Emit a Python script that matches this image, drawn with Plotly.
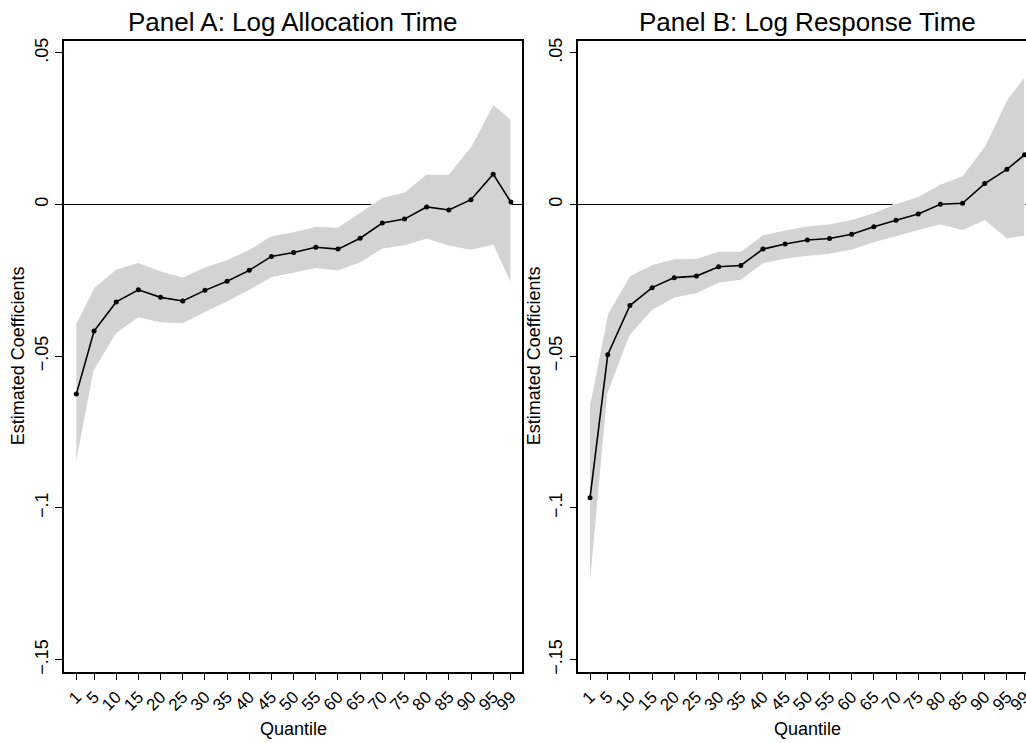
import plotly.graph_objects as go

# ---------------- data ----------------
quantiles = [1, 5, 10, 15, 20, 25, 30, 35, 40, 45, 50, 55, 60, 65, 70, 75, 80, 85, 90, 95, 99]
tick_labels = [str(q) for q in quantiles]

# Panel A: Log Allocation Time
a_coef = [-0.0625, -0.0417, -0.0321, -0.0281, -0.0306, -0.0318, -0.0283, -0.0253, -0.0217, -0.0171,
          -0.0158, -0.0141, -0.0147, -0.0111, -0.0061, -0.0048, -0.0008, -0.0018, 0.0016, 0.0100, 0.0008]
a_upper = [-0.0391, -0.0274, -0.0213, -0.0191, -0.0219, -0.0239, -0.0206, -0.0182, -0.0148, -0.0103,
           -0.0090, -0.0072, -0.0075, -0.0027, 0.0023, 0.0041, 0.0100, 0.0100, 0.0191, 0.0330, 0.0280]
a_lower = [-0.0850, -0.0547, -0.0425, -0.0373, -0.0390, -0.0393, -0.0356, -0.0321, -0.0283, -0.0241,
           -0.0226, -0.0211, -0.0219, -0.0192, -0.0147, -0.0136, -0.0114, -0.0137, -0.0151, -0.0134, -0.0261]

# Panel B: Log Response Time
b_coef = [-0.0967, -0.0495, -0.0333, -0.0274, -0.0241, -0.0236, -0.0205, -0.0201, -0.0147, -0.0130,
          -0.0117, -0.0112, -0.0098, -0.0073, -0.0052, -0.0031, 0.0001, 0.0004, 0.0069, 0.0116, 0.0164]
b_upper = [-0.0656, -0.0360, -0.0235, -0.0198, -0.0179, -0.0178, -0.0154, -0.0154, -0.0100, -0.0084,
           -0.0071, -0.0064, -0.0049, -0.0027, 0.0003, 0.0026, 0.0067, 0.0095, 0.0192, 0.0345, 0.0421]
b_lower = [-0.1260, -0.0623, -0.0431, -0.0349, -0.0308, -0.0294, -0.0259, -0.0250, -0.0195, -0.0180,
           -0.0171, -0.0164, -0.0150, -0.0126, -0.0105, -0.0086, -0.0067, -0.0086, -0.0053, -0.0113, -0.0104]

y_tickvals = [-0.15, -0.1, -0.05, 0, 0.05]
y_ticktext = ["\u2212.15", "\u2212.1", "\u2212.05", "0", ".05"]

panel_titles = ["Panel A: Log Allocation Time", "Panel B: Log Response Time"]
x_title = "Quantile"
y_title = "Estimated Coefficients"

# ---------------- figure ----------------
W, H = 1026, 743
FONT = "Liberation Sans, Arial, Helvetica, sans-serif"
BAND = "rgb(211,211,211)"

fig = go.Figure()

panels = [
    ("x", "y", a_coef, a_upper, a_lower),
    ("x2", "y2", b_coef, b_upper, b_lower),
]
for xa, ya, coef, up, lo in panels:
    fig.add_trace(go.Scatter(
        x=quantiles + quantiles[::-1], y=up + lo[::-1],
        fill="toself", fillcolor=BAND, mode="lines",
        line=dict(color="white", width=1), xaxis=xa, yaxis=ya,
        hoverinfo="skip", showlegend=False))
    fig.add_trace(go.Scatter(
        x=quantiles, y=coef, mode="lines+markers",
        line=dict(color="black", width=1.6),
        marker=dict(color="black", size=5),
        xaxis=xa, yaxis=ya, showlegend=False))

# domains in pixels
A_left, A_right = 64, 522
B_left, B_right = 578.3, 1026
top_px, bot_px = 41, 671.7
yd = [1 - bot_px / H, 1 - top_px / H]

yrange = [-0.154, 0.0539]

common_x = dict(
    tickmode="array", tickvals=quantiles, ticktext=tick_labels,
    tickangle=-45, ticks="outside", ticklen=7, tickwidth=1, tickcolor="black",
    showline=True, linecolor="black", linewidth=1.5,
    showgrid=False, zeroline=False, automargin=False,
    ticklabeloverflow="allow",
    tickfont=dict(family=FONT, size=17, color="black"),
)
common_y = dict(
    range=yrange, tickmode="array", tickvals=y_tickvals, ticktext=y_ticktext,
    tickangle=-90, ticks="outside", ticklen=7, tickwidth=1, tickcolor="black",
    showline=True, linecolor="black", linewidth=1.5,
    showgrid=False, zeroline=True, zerolinecolor="black", zerolinewidth=1,
    automargin=False,
    tickfont=dict(family=FONT, size=18, color="black"),
)

fig.update_layout(
    template="none",
    width=W, height=H,
    margin=dict(l=0, r=0, t=0, b=0, pad=0),
    paper_bgcolor="white", plot_bgcolor="white",
    font=dict(family=FONT, color="black"),
    xaxis=dict(domain=[A_left / W, A_right / W], range=[-1.78, 101.5], anchor="y",
               mirror=True, **common_x),
    yaxis=dict(domain=yd, anchor="x", mirror=True, **common_y),
    xaxis2=dict(domain=[B_left / W, B_right / W], range=[-1.64, 99.31], anchor="y2",
                mirror=True, **common_x),
    yaxis2=dict(domain=yd, anchor="x2", mirror=False, **common_y),
)

annotations = []
centers = [(A_left + A_right) / 2, B_left + (A_right - A_left) / 2]
ytitle_x = [18, 534]
for i in range(2):
    annotations.append(dict(
        text=panel_titles[i], x=centers[i] / W, y=1 - 22 / H, xref="paper", yref="paper",
        xanchor="center", yanchor="middle", showarrow=False,
        font=dict(family=FONT, size=26, color="black")))
    annotations.append(dict(
        text=x_title, x=centers[i] / W, y=1 - 729 / H, xref="paper", yref="paper",
        xanchor="center", yanchor="middle", showarrow=False,
        font=dict(family=FONT, size=18, color="black")))
    annotations.append(dict(
        text=y_title, x=ytitle_x[i] / W, y=1 - ((top_px + bot_px) / 2) / H,
        xref="paper", yref="paper", textangle=-90,
        xanchor="center", yanchor="middle", showarrow=False,
        font=dict(family=FONT, size=18, color="black")))
fig.update_layout(annotations=annotations)

fig.write_html(
    "out.html",
    config={"displayModeBar": False},
    post_script="document.body.style.margin='0';document.body.style.overflow='hidden';",
)
